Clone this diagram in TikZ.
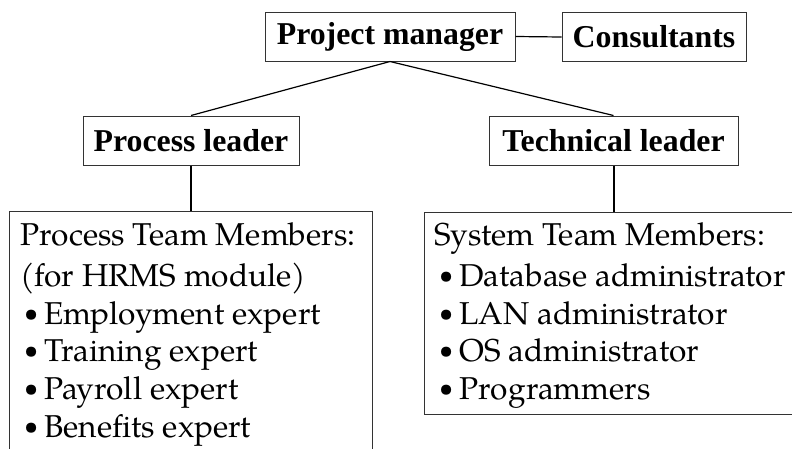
\documentclass[tikz,border=0pt]{standalone}
\usepackage{fontspec}
\usepackage{graphicx}
\setmainfont{Liberation Serif}
\newfontfamily\bodyfont{TeX Gyre Pagella}
\definecolor{boxline}{gray}{0.2}
\begin{document}
\begin{tikzpicture}[x=1pt,y=-1pt,
  head/.style={draw=boxline, line width=1pt, font=\fontsize{31.8}{36}\selectfont\bfseries, inner sep=0pt, minimum height=49pt},
  membox/.style={draw=boxline, line width=1pt, anchor=north west, inner sep=0pt},
  line/.style={anchor=base west, inner sep=0pt, font=\fontsize{31.6}{38}\selectfont\bodyfont},
  conn/.style={draw, line width=1.2pt},
  vconn/.style={draw, line width=2pt}]
\useasboundingbox (0,0) rectangle (792,448);
\node[head, minimum width=250pt] (pm) at (390,36.5) {Project manager};
\node[head, minimum width=184pt] (cons) at (654,37) {Consultants};
\node[head, minimum width=216pt] (pl) at (191,140.5) {Process leader};
\node[head, minimum width=249pt] (tl) at (613.5,140.5) {Technical leader};
\node[membox, minimum width=363pt, minimum height=260pt] (ptbox) at (9,211) {};
\node[membox, minimum width=380pt, minimum height=202pt] (stbox) at (424,212) {};
\newcommand{\bul}{\hbox to 20pt{\raisebox{2.5pt}{\scalebox{0.8}{\textbullet}}\hss}}
\node[line] (p1) at (20,245) {Process Team Members:};
\node[line] (p2) at (20,286) {(for HRMS module)};
\node[line] (p3) at (24,324) {\bul Employment expert};
\node[line] (p4) at (24,361) {\bul Training expert};
\node[line] (p5) at (24,399) {\bul Payroll expert};
\node[line] (p6) at (24,437) {\bul Benefits expert};
\node[line] (s1) at (434,245) {System Team Members:};
\node[line] (s2) at (439,286) {\bul Database administrator};
\node[line] (s3) at (439,324) {\bul LAN administrator};
\node[line] (s4) at (439,361) {\bul OS administrator};
\node[line] (s5) at (439,399) {\bul Programmers};
\draw[conn] (pm.south) -- (pl.north);
\draw[conn] (pm.south) -- (tl.north);
\draw[conn] (pm.east) -- (cons.west);
\draw[vconn] (pl.south) -- (pl.south |- ptbox.north);
\draw[vconn] (tl.south) -- (tl.south |- stbox.north);
\end{tikzpicture}
\end{document}
